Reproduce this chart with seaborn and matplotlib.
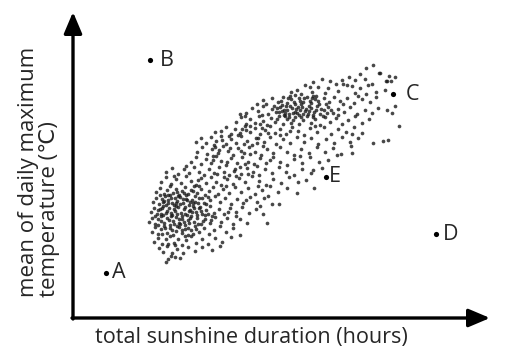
import matplotlib
matplotlib.use("Agg")
import matplotlib.pyplot as plt
import seaborn as sns
import pandas as pd

# nuage de points (ensoleillement, température)
cloud = [
    (373, 295),
    (366, 292), (379, 287), (360, 286), (389, 284), (395, 283), (349, 283),
    (342, 280), (355, 280), (387, 279), (365, 281), (330, 279), (322, 281), (313, 278), (372, 276),
    (336, 276), (347, 275), (310, 273), (386, 279), (391, 279), (380, 287),
    (297, 270), (305, 275), (318, 273), (328, 272), (343, 276), (352, 274), (360, 272), (368, 275),
    (301, 266), (312, 268), (325, 267), (338, 269), (355, 267), (376, 268), (366, 266), (385, 270),
    (291, 268),
    (387, 250), (392, 247), (395, 254), (399, 234), (383, 219), (388, 220),
    (272, 262), (278, 258), (283, 263), (287, 257), (291, 261), (295, 256), (299, 262), (303, 258),
    (307, 263), (311, 257), (315, 261), (319, 256), (324, 262), (329, 258), (334, 263), (340, 259),
    (347, 262), (354, 257), (362, 261), (370, 258), (376, 263), (266, 256), (282, 255), (300, 259),
    (313, 264), (343, 256), (358, 264), (290, 264), (257, 256), (263, 260),
    (246, 247), (252, 252), (258, 249), (263, 254), (268, 246), (272, 251), (276, 248), (280, 253),
    (284, 245), (287, 250), (290, 254), (293, 247), (296, 251), (299, 245), (302, 253), (305, 249),
    (308, 246), (311, 252), (314, 248), (317, 254), (320, 246), (324, 250), (328, 253), (333, 247),
    (338, 251), (344, 248), (350, 253), (357, 246), (365, 250), (372, 247), (378, 252), (282, 249),
    (295, 248), (309, 254), (300, 250), (289, 246), (316, 250), (274, 254), (262, 245), (240, 246),
    (277, 252), (281, 259), (285, 247), (288, 262), (292, 252), (294, 258), (297, 247), (301, 256),
    (304, 262), (306, 251), (310, 259), (313, 243), (318, 259), (321, 251), (326, 256), (331, 250),
    (286, 254), (298, 253), (309, 249), (303, 246), (289, 243), (279, 248), (316, 264), (323, 244),
    (295, 265), (312, 262), (327, 247), (284, 250),
    (236, 238), (241, 243), (246, 236), (250, 241), (255, 237), (259, 244), (263, 239), (267, 235),
    (271, 242), (275, 238), (279, 244), (283, 236), (287, 241), (291, 237), (295, 243), (299, 236),
    (303, 240), (307, 244), (311, 237), (315, 241), (320, 235), (325, 243), (330, 238), (336, 242),
    (342, 236), (348, 240), (355, 244), (362, 237), (369, 241), (285, 244), (301, 243), (293, 240),
    (277, 241), (313, 245), (260, 236), (338, 245), (245, 244),
    (221, 229), (226, 233), (231, 226), (235, 231), (240, 227), (245, 234), (250, 228), (255, 232),
    (260, 226), (265, 230), (270, 234), (275, 227), (280, 231), (286, 226), (292, 233), (298, 229),
    (304, 225), (310, 232), (317, 228), (324, 233), (331, 226), (338, 231), (346, 228), (354, 233),
    (362, 227), (242, 231), (268, 227), (290, 229), (315, 234), (250, 234), (352, 226),
    (196, 218), (201, 222), (206, 217), (211, 223), (216, 219), (221, 224), (226, 216), (231, 221),
    (236, 217), (241, 224), (247, 219), (252, 215), (258, 222), (264, 218), (270, 223), (276, 216),
    (283, 221), (290, 217), (297, 223), (304, 218), (311, 222), (318, 216), (326, 221), (334, 217),
    (342, 223), (350, 218), (358, 222), (373, 217), (229, 224), (257, 217), (280, 225), (214, 215),
    (244, 216), (215, 228), (222, 220), (238, 225), (246, 230), (256, 222), (262, 232),
    (197, 208), (202, 213), (207, 206), (212, 211), (218, 207), (223, 214), (228, 209), (233, 205),
    (238, 212), (244, 207), (249, 213), (255, 208), (261, 205), (267, 211), (273, 207), (280, 213),
    (287, 208), (294, 205), (301, 211), (309, 207), (317, 213), (325, 208), (333, 212), (341, 206),
    (351, 214), (215, 213), (241, 209), (263, 214), (352, 207), (328, 200), (337, 205),
    (230, 212), (213, 204), (250, 206), (219, 210),
    (191, 198), (196, 203), (201, 196), (206, 201), (211, 197), (216, 204), (221, 199), (226, 195),
    (231, 202), (237, 197), (242, 203), (248, 198), (254, 196), (260, 202), (266, 197), (273, 203),
    (280, 198), (287, 195), (294, 201), (302, 197), (310, 203), (319, 198), (213, 200),
    (245, 196), (270, 200), (300, 204), (227, 198), (240, 193),
    (166, 188), (172, 192), (178, 186), (184, 191), (189, 187), (194, 193), (199, 188), (204, 185),
    (209, 191), (214, 187), (219, 193), (224, 188), (229, 185), (235, 191), (241, 186), (247, 192),
    (253, 188), (259, 185), (265, 191), (272, 187), (279, 193), (286, 188), (294, 185), (302, 191),
    (311, 187), (322, 192), (186, 194), (217, 186), (257, 194), (313, 190), (234, 189), (248, 186),
    (161, 178), (166, 183), (171, 176), (176, 181), (181, 177), (186, 184), (191, 179), (196, 175),
    (201, 182), (206, 177), (211, 183), (216, 178), (221, 175), (227, 181), (233, 176), (239, 182),
    (245, 178), (252, 184), (259, 179), (266, 175), (273, 181), (281, 177), (289, 183), (298, 178),
    (306, 180), (314, 172), (174, 184), (198, 180), (236, 184), (224, 183),
    (156, 168), (160, 172), (164, 166), (167, 170), (170, 174), (173, 167), (176, 171), (179, 165),
    (182, 169), (185, 173), (188, 166), (191, 170), (194, 174), (197, 167), (201, 171), (205, 165),
    (209, 169), (213, 173), (218, 166), (223, 171), (229, 167), (235, 173), (241, 168), (248, 172),
    (255, 166), (262, 170), (270, 174), (278, 168), (287, 172), (297, 167), (168, 165),
    (184, 167), (199, 174), (226, 174), (258, 174),
    (153, 158), (156, 162), (159, 156), (162, 161), (165, 164), (168, 157), (171, 162), (174, 155),
    (177, 159), (180, 163), (183, 157), (186, 161), (189, 155), (192, 160), (195, 164), (198, 157),
    (202, 162), (206, 156), (210, 160), (215, 164), (220, 158), (225, 162), (231, 156), (237, 161),
    (243, 157), (250, 163), (257, 158), (264, 162), (272, 156), (279, 156), (163, 158),
    (178, 164), (193, 157), (208, 163), (246, 160), (268, 164),
    (151, 148), (154, 152), (157, 146), (160, 151), (163, 154), (166, 147), (169, 152), (172, 145),
    (175, 149), (178, 153), (181, 147), (184, 151), (187, 145), (190, 150), (193, 154), (196, 148),
    (199, 152), (202, 146), (206, 150), (210, 154), (214, 147), (219, 151), (224, 146), (230, 152),
    (236, 148), (242, 153), (249, 147), (256, 151), (263, 146), (161, 146),
    (176, 154), (189, 149), (205, 145), (228, 148), (260, 154),
    (158, 150), (161, 139), (164, 159), (167, 149), (169, 140), (172, 157), (174, 151), (177, 146),
    (180, 156), (182, 144), (185, 153), (187, 160), (190, 142), (192, 148), (195, 158), (197, 145),
    (200, 153), (203, 139), (170, 165), (177, 168), (186, 165), (193, 169), (160, 165), (165, 132),
    (172, 130), (180, 136), (188, 132), (196, 131), (204, 157), (208, 146), (155, 144), (162, 152),
    (175, 162), (183, 161), (189, 137), (179, 141), (171, 147), (166, 155), (158, 135), (185, 146),
    (194, 152), (199, 162), (174, 136), (182, 130), (190, 158), (163, 145), (168, 160), (176, 157),
    (201, 149), (211, 140),
    (149, 138), (152, 142), (155, 136), (158, 141), (161, 144), (164, 137), (167, 142), (170, 135),
    (173, 139), (176, 143), (179, 137), (182, 141), (185, 135), (188, 140), (191, 144), (194, 138),
    (197, 142), (201, 136), (205, 141), (210, 137), (215, 143), (221, 138), (227, 142), (233, 136),
    (240, 141), (247, 137), (267, 137), (171, 144), (184, 138), (198, 136), (212, 144), (236, 144),
    (152, 128), (155, 133), (158, 126), (161, 131), (164, 134), (167, 127), (170, 132), (173, 125),
    (176, 129), (179, 133), (182, 127), (185, 131), (188, 125), (191, 130), (195, 134), (199, 128),
    (204, 132), (209, 126), (214, 130), (220, 134), (226, 128), (233, 132), (240, 125), (162, 126),
    (177, 134), (193, 126),
    (154, 118), (158, 122), (162, 116), (166, 121), (170, 124), (174, 117), (178, 121), (182, 115),
    (186, 120), (191, 124), (196, 117), (202, 121), (208, 116), (215, 122), (222, 118), (231, 123),
    (168, 116), (185, 124),
    (159, 112), (163, 108), (167, 114), (172, 107), (177, 111), (183, 107), (188, 113), (195, 109),
    (202, 113), (212, 110), (220, 114), (175, 115),
    (168, 101), (175, 103), (166, 98), (171, 104), (180, 102),
]

# points nommés
point_names = ["A", "B", "C", "D", "E"]
point_x = [106, 150, 393, 436, 326]
point_y = [87, 300, 266, 126, 183]
name_gap = [4, 7, 9, 5, 2]  # écart texte/point en points

sns.set_style("white")
plt.rcParams["font.family"] = ["Open Sans", "DejaVu Sans"]

df = pd.DataFrame(cloud, columns=["sunshine", "temperature"])

fig = plt.figure(figsize=(5.07, 3.6), dpi=100)
ax = fig.add_axes([0, 0, 1, 1])

sns.scatterplot(data=df, x="sunshine", y="temperature", s=7, color="#1a1a1a",
                alpha=0.8, linewidth=0, ax=ax)
sns.scatterplot(x=point_x, y=point_y, s=14, color="black", linewidth=0, ax=ax)
for name, x, y, gap in zip(point_names, point_x, point_y, name_gap):
    ax.annotate(name, (x, y), xytext=(gap, 0), textcoords="offset points",
                ha="left", va="center", fontsize=15.5)

ax.set_xlim(0, 507)
ax.set_ylim(0, 360)
ax.axis("off")

# axes en flèches
arrow = dict(arrowstyle="-|>,head_length=13,head_width=5.5", mutation_scale=1,
             lw=2.4, color="black", shrinkA=0, shrinkB=0)
ax.annotate("", xy=(490, 42), xytext=(72, 42), arrowprops=arrow)
ax.annotate("", xy=(73, 348), xytext=(73, 41), arrowprops=arrow)

fig.text(95 / 507, 1 - 337 / 360, "total sunshine duration (hours)",
         ha="left", va="center", fontsize=15.6)
fig.text(39 / 507, 1 - 297 / 360, "mean of daily maximum\ntemperature (℃)",
         rotation=90, ha="center", va="bottom", multialignment="left",
         fontsize=16, linespacing=1.05)

fig.savefig("out.png", dpi=100)
